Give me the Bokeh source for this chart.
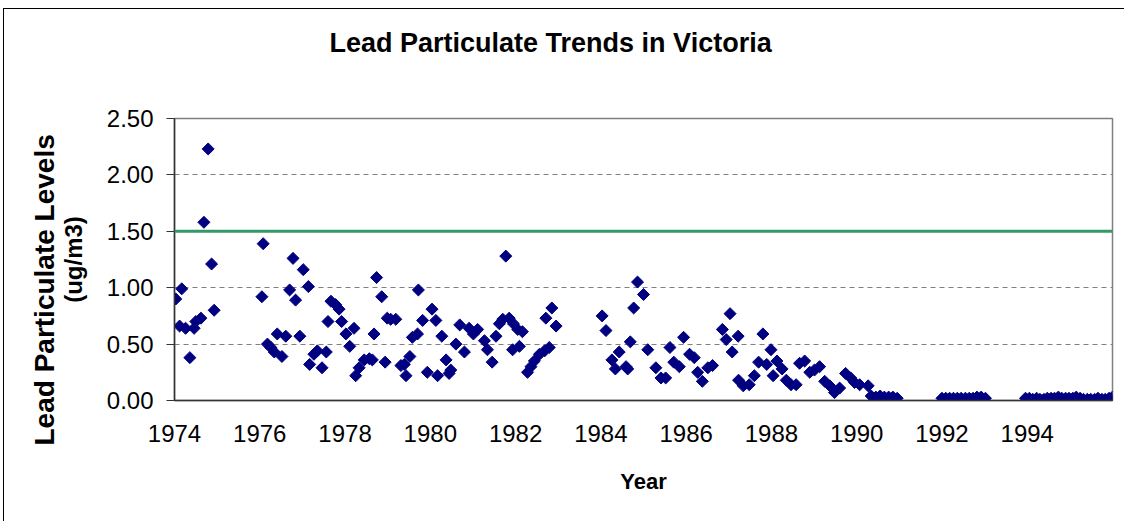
import numpy as np
from bokeh.plotting import figure
from bokeh.models import Span, Title, FixedTicker, NumeralTickFormatter, Range1d
from bokeh.embed import file_html
from bokeh.resources import INLINE

title_text = "Lead Particulate Trends in Victoria"
x_title = "Year"
y_title_1 = "Lead Particulate Levels"
y_title_2 = "(ug/m3)"
standard_level = 1.5

x_ticks = [1974, 1976, 1978, 1980, 1982, 1984, 1986, 1988, 1990, 1992, 1994]
y_ticks = [0.0, 0.5, 1.0, 1.5, 2.0, 2.5]

years = [
    1974.03, 1974.17, 1974.12, 1974.26, 1974.36, 1974.46, 1974.50, 1974.62, 1974.69, 1974.79, 1974.87, 1974.93,
    1976.08, 1976.05, 1976.18, 1976.26, 1976.34, 1976.41, 1976.52, 1976.61, 1976.70, 1976.78, 1976.84, 1976.94,
    1977.02, 1977.14, 1977.17, 1977.27, 1977.35, 1977.46, 1977.56, 1977.60, 1977.67, 1977.78, 1977.86, 1977.92,
    1978.02, 1978.11, 1978.21, 1978.25, 1978.33, 1978.45, 1978.57, 1978.64, 1978.68, 1978.74, 1978.86, 1978.94,
    1978.99, 1979.07, 1979.19, 1979.31, 1979.39, 1979.43, 1979.52, 1979.58, 1979.70, 1979.72, 1979.82, 1979.93,
    1980.04, 1980.13, 1980.17, 1980.27, 1980.37, 1980.44, 1980.48, 1980.60, 1980.69, 1980.80, 1980.91,
    1981.01, 1981.11, 1981.27, 1981.34, 1981.45, 1981.54, 1981.62, 1981.70, 1981.77, 1981.85, 1981.93, 1981.95,
    1982.05, 1982.09, 1982.16, 1982.28, 1982.36, 1982.44, 1982.56, 1982.68, 1982.71, 1982.79, 1982.85, 1982.95,
    1984.03, 1984.12, 1984.26, 1984.34, 1984.43, 1984.59, 1984.63, 1984.69, 1984.77, 1984.86, 1985.00,
    1985.10, 1985.29, 1985.41, 1985.52, 1985.62, 1985.71, 1985.84, 1985.94,
    1986.08, 1986.19, 1986.27, 1986.38, 1986.51, 1986.62, 1986.85, 1986.94,
    1987.03, 1987.08, 1987.22, 1987.23, 1987.34, 1987.48, 1987.60, 1987.70, 1987.80, 1987.89, 1987.99,
    1988.04, 1988.13, 1988.25, 1988.35, 1988.46, 1988.58, 1988.66, 1988.78, 1988.90,
    1989.01, 1989.13, 1989.25, 1989.37, 1989.48, 1989.60, 1989.74, 1989.86, 1989.95,
    1990.07, 1990.27, 1990.34, 1990.45, 1990.55, 1990.65, 1990.75, 1990.85, 1990.95,
    1992.00, 1992.09, 1992.18, 1992.27, 1992.36, 1992.45, 1992.55, 1992.64, 1992.73, 1992.82, 1992.92, 1993.02,
    1993.96, 1994.05, 1994.13, 1994.22, 1994.30, 1994.39, 1994.47, 1994.56, 1994.64, 1994.73, 1994.81, 1994.90,
    1994.98, 1995.07, 1995.15, 1995.24, 1995.32, 1995.41, 1995.49, 1995.58, 1995.66, 1995.75, 1995.83, 1995.92, 1996.00,
]

levels = [
    0.90, 0.99, 0.66, 0.64, 0.38, 0.64, 0.70, 0.73, 1.58, 2.23, 1.21, 0.80,
    1.39, 0.92, 0.50, 0.47, 0.43, 0.59, 0.39, 0.57, 0.98, 1.26, 0.89, 0.57,
    1.16, 1.01, 0.32, 0.41, 0.44, 0.29, 0.43, 0.70, 0.88, 0.85, 0.81, 0.70,
    0.59, 0.48, 0.64, 0.22, 0.29, 0.36, 0.37, 0.36, 0.59, 1.09, 0.92, 0.34,
    0.73, 0.72, 0.72, 0.31, 0.32, 0.22, 0.39, 0.56, 0.59, 0.98, 0.71, 0.25,
    0.81, 0.71, 0.22, 0.57, 0.36, 0.24, 0.27, 0.50, 0.67, 0.43, 0.64,
    0.59, 0.63, 0.53, 0.45, 0.34, 0.57, 0.68, 0.72, 1.28, 0.73, 0.45, 0.68,
    0.63, 0.48, 0.61, 0.25, 0.30, 0.35, 0.41, 0.44, 0.73, 0.47, 0.82, 0.66,
    0.75, 0.62, 0.36, 0.28, 0.43, 0.30, 0.28, 0.52, 0.82, 1.05, 0.94,
    0.45, 0.29, 0.20, 0.20, 0.47, 0.34, 0.30, 0.56,
    0.41, 0.38, 0.25, 0.17, 0.29, 0.31, 0.63, 0.54,
    0.77, 0.43, 0.57, 0.18, 0.13, 0.14, 0.22, 0.34, 0.59, 0.32, 0.45,
    0.22, 0.35, 0.28, 0.18, 0.14, 0.14, 0.33, 0.35, 0.25,
    0.27, 0.30, 0.17, 0.13, 0.07, 0.11, 0.24, 0.20, 0.16,
    0.14, 0.13, 0.04, 0.03, 0.04, 0.03, 0.03, 0.03, 0.02,
    0.02, 0.02, 0.02, 0.02, 0.02, 0.02, 0.02, 0.02, 0.02, 0.03, 0.03, 0.02,
    0.02, 0.02, 0.01, 0.02, 0.01, 0.01, 0.02, 0.02, 0.02, 0.03, 0.02, 0.02,
    0.02, 0.02, 0.03, 0.02, 0.01, 0.01, 0.01, 0.01, 0.02, 0.01, 0.01, 0.02, 0.03,
]

FONT = "Liberation Sans"

p = figure(width=1121, height=513, output_backend="svg", toolbar_location=None,
           x_range=Range1d(1974, 1996), y_range=Range1d(0, 2.5),
           min_border_left=170, min_border_right=13, min_border_top=109, min_border_bottom=122)
p.styles = {"margin-left": "3px", "margin-top": "8px",
            "border-top": "1.5px solid #000", "border-left": "1.5px solid #000"}

p.outline_line_color = "#808080"
p.outline_line_width = 1.5
p.background_fill_color = "white"
p.border_fill_color = "white"

p.xgrid.visible = False
p.ygrid.grid_line_color = "#808080"
p.ygrid.grid_line_dash = "5 4"
p.ygrid.grid_line_width = 1.2

# spacer between the title and the plot area
p.add_layout(Title(text=" ", standoff=48, text_font=FONT, text_font_size="10px"), "above")

# title
p.title.text = title_text
p.title.align = "left"
p.title.vertical_align = "bottom"
p.title.offset = 155
p.title.standoff = 0
p.title.text_font = FONT
p.title.text_font_style = "bold"
p.title.text_font_size = "27px"
p.title.text_color = "black"

# axes
p.yaxis.ticker = FixedTicker(ticks=y_ticks)
p.yaxis.formatter = NumeralTickFormatter(format="0.00")
p.yaxis.major_label_text_font = FONT
p.yaxis.major_label_text_font_size = "24px"
p.yaxis.major_label_text_color = "black"
p.yaxis.major_tick_out = 8
p.yaxis.major_tick_in = 0
p.yaxis.minor_tick_out = 0
p.yaxis.minor_tick_in = 0
p.yaxis.major_label_standoff = 13
p.yaxis.axis_line_color = "#333333"
p.yaxis.axis_line_width = 1.5
p.yaxis.major_tick_line_color = "#333333"
p.yaxis.major_tick_line_width = 1.2
p.yaxis.axis_label = y_title_2
p.yaxis.axis_label_text_font = FONT
p.yaxis.axis_label_text_font_style = "bold"
p.yaxis.axis_label_text_font_size = "24px"
p.yaxis.axis_label_text_color = "black"
p.yaxis.axis_label_standoff = 17

p.xaxis.ticker = FixedTicker(ticks=x_ticks)
p.xaxis.formatter = NumeralTickFormatter(format="0")
p.xaxis.major_label_text_font = FONT
p.xaxis.major_label_text_font_size = "24px"
p.xaxis.major_label_text_color = "black"
p.xaxis.major_tick_out = 0
p.xaxis.major_tick_in = 0
p.xaxis.minor_tick_out = 0
p.xaxis.minor_tick_in = 0
p.xaxis.major_label_standoff = 24
p.xaxis.axis_line_color = "#333333"
p.xaxis.axis_line_width = 1.5
p.xaxis.axis_label = x_title
p.xaxis.axis_label_text_font = FONT
p.xaxis.axis_label_text_font_style = "bold"
p.xaxis.axis_label_text_font_size = "22px"
p.xaxis.axis_label_text_color = "black"
p.xaxis.axis_label_standoff = 24

p.add_layout(Title(text=y_title_1, align="left", offset=-45, standoff=-7,
                   text_font=FONT, text_font_style="bold", text_font_size="28px",
                   text_color="black"), "left")

# standard line
p.add_layout(Span(location=standard_level, dimension="width", line_color="#339966", line_width=3))

p.scatter(x=years, y=levels, marker="square", angle=np.pi / 4, size=8.5,
          fill_color="#000080", line_color="#000080")

open("out.html", "w").write(file_html(p, INLINE))
